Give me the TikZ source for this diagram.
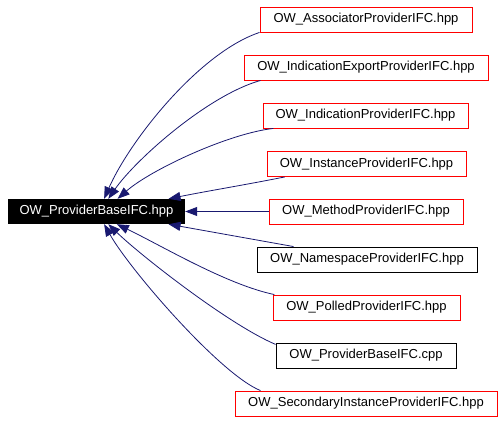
\documentclass[tikz,border=0pt]{standalone}
\usepackage{fontspec}
\setmainfont{Liberation Sans}
\usetikzlibrary{arrows.meta}
\definecolor{edgeblue}{RGB}{25,25,112}
\begin{document}
\begin{tikzpicture}[x=1pt,y=-1pt,
  box/.style={draw=red,line width=0.9pt,fill=white,minimum height=25pt,inner sep=0pt,font=\fontsize{13}{15}\selectfont},
  blackbox/.style={box,draw=black},
  mainbox/.style={fill=black,text=white,minimum height=25pt,inner sep=0pt,font=\fontsize{13}{15}\selectfont},
  edge/.style={draw=edgeblue,line width=0.8pt,-{Triangle[length=12pt,width=9pt]}}]
\useasboundingbox (0,0) rectangle (504,421);
\node[mainbox,minimum width=177pt] (main) at (96.5,211.5) {OW\_ProviderBaseIFC.hpp};
\node[box,minimum width=212pt] (a) at (366,19.5) {OW\_AssociatorProviderIFC.hpp};
\node[box,minimum width=244pt] (b) at (366,67.5) {OW\_IndicationExportProviderIFC.hpp};
\node[box,minimum width=205pt] (c) at (365.5,115.5) {OW\_IndicationProviderIFC.hpp};
\node[box,minimum width=199pt] (d) at (366.5,164) {OW\_InstanceProviderIFC.hpp};
\node[box,minimum width=194pt] (e) at (366,211.5) {OW\_MethodProviderIFC.hpp};
\node[blackbox,minimum width=220pt] (f) at (367,259.5) {OW\_NamespaceProviderIFC.hpp};
\node[box,minimum width=187pt] (g) at (366.5,307.5) {OW\_PolledProviderIFC.hpp};
\node[blackbox,minimum width=180pt] (h) at (366,355.5) {OW\_ProviderBaseIFC.cpp};
\node[box,minimum width=262pt] (i) at (366,403.5) {OW\_SecondaryInstanceProviderIFC.hpp};
\draw[edge] (a.south west) .. controls +(-60,20) and +(26,-59) .. (main.59);
\draw[edge] (b.-173.1) .. controls +(-53,15) and +(27,-39) .. (main.47.4);
\draw[edge] (c.-172.5) .. controls +(-45,5) and +(33,-29) .. (main.31.4);
\draw[edge] (d.-171) .. controls +(-40,8) and +(40,-8) .. (main.10.3);
\draw[edge] (e.west) -- (main.east);
\draw[edge] (f.170.2) -- (main.-10.3);
\draw[edge] (g.172) .. controls +(-48,-10) and +(44,21) .. (main.-32.7);
\draw[edge] (h.173.3) .. controls +(-47,-20) and +(32,31) .. (main.-47.4);
\draw[edge] (i.173.3) .. controls +(-40,-16) and +(26,46) .. (main.-59);
\end{tikzpicture}
\end{document}
